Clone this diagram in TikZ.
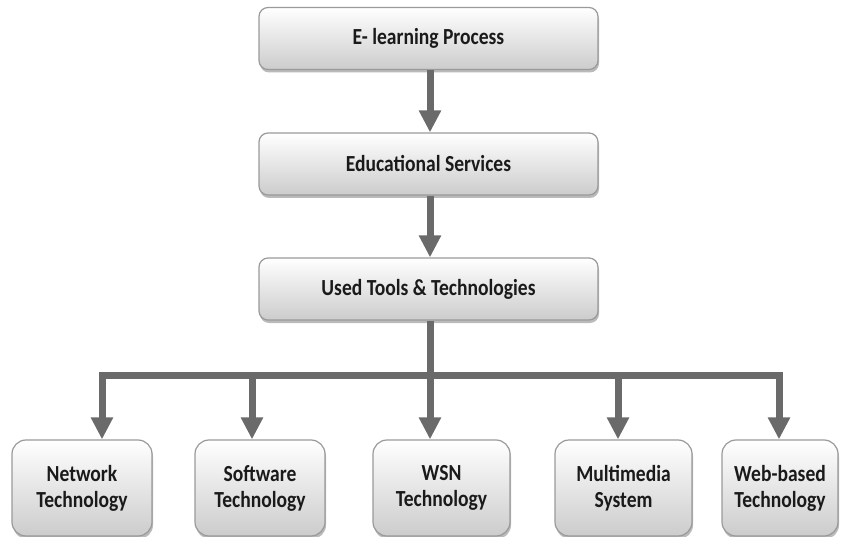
\documentclass[tikz,border=0pt]{standalone}
\usepackage{fontspec}
\setmainfont{Carlito}[FakeStretch=0.85]
\usetikzlibrary{arrows.meta,shadows,calc}
\definecolor{arrgray}{HTML}{6A6A6A}
\definecolor{boxline}{HTML}{9A9A9A}
\definecolor{boxbot}{HTML}{CCCCCC}
\definecolor{txt}{HTML}{1A1A1A}
\tikzset{
  box/.style={rounded corners=9pt, draw=boxline, line width=1.2pt, top color=white, bottom color=boxbot,
    drop shadow={shadow xshift=1pt, shadow yshift=-3pt, opacity=0.45, fill=black!60},
    text=txt, font=\bfseries\fontsize{23}{26}\selectfont, align=center, inner sep=0pt},
  topbox/.style={box, minimum width=339pt, minimum height=62pt},
  leafbox/.style={box, rounded corners=14pt, minimum height=96pt},
  arr/.style={draw=arrgray, line width=7pt, -{Triangle[width=21pt,length=22pt]}, fill=arrgray},
  bar/.style={draw=arrgray, line width=7pt}
}
\begin{document}
\begin{tikzpicture}[x=1pt,y=-1pt]
\useasboundingbox (0,0) rectangle (843,537);
\node[topbox] (t1) at (428.5,38.5) {E- learning Process};
\node[topbox] (t2) at (428.5,164) {Educational Services};
\node[topbox] (t3) at (428.5,289) {Used Tools \& Technologies};
\node[leafbox, minimum width=140pt] (n1) at (82,488) {Network\\Technology};
\node[leafbox, minimum width=130pt] (n2) at (260,488) {Software\\Technology};
\node[leafbox, minimum width=137pt] (n3) at (441.5,488) {WSN\\Technology};
\node[leafbox, minimum width=137pt] (n4) at (623.5,488) {Multimedia\\System};
\node[leafbox, minimum width=116pt] (n5) at (780,488) {Web-based\\Technology};
\coordinate (bus) at (430,375);
\coordinate (busL) at (102,375);
\coordinate (busR) at (779,375);
\draw[arr] ([xshift=1.5pt]t1.south) -- ([xshift=1.5pt]t2.north);
\draw[arr] ([xshift=1.5pt]t2.south) -- ([xshift=1.5pt]t3.north);
\draw[bar] ([xshift=1.5pt]t3.south) -- (bus);
\draw[bar, line cap=rect] (busL) -- (busR);
\draw[arr] (busL) -- (busL |- n1.north);
\draw[arr] (bus -| 252,0) -- ([xshift=-8pt]n2.north);
\draw[arr] (bus) -- (bus |- n3.north);
\draw[arr] (bus -| 618,0) -- ([xshift=-5.5pt]n4.north);
\draw[arr] (busR) -- (busR |- n5.north);
\end{tikzpicture}
\end{document}
